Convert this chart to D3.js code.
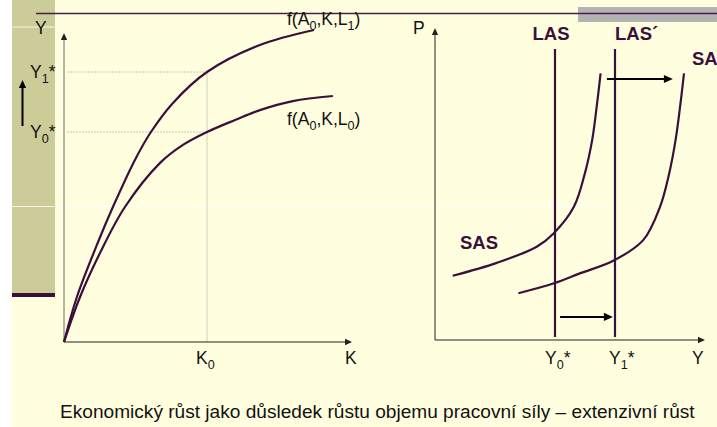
<!DOCTYPE html>
<html>
<head>
<meta charset="utf-8">
<script src="https://cdn.jsdelivr.net/npm/d3@7"></script>
<style>
  body { margin: 0; background: #fff; }
  text { font-family: "Liberation Sans", Arial, sans-serif; }
</style>
</head>
<body>
<script>
// production functions, K on x, Y on y (units)
var prodL1 = [[0,0],[0.45,1.5],[1.22,3.4],[1.71,4.5],[2.48,6.07],[3.04,7.0],[3.81,7.97],[5,9],[6.85,9.9],[8.74,10.4]];
var prodL0 = [[0,0],[0.56,1.5],[1.26,2.97],[2.13,4.5],[3.36,5.97],[4.16,6.57],[5,7],[5.98,7.4],[6.85,7.73],[8.0,8.03],[9.4,8.2]];
var K0 = 5, Y0star = 7, Y1star = 9;

// AS model, Y on x, P on y (units)
var sas0 = [[0.59,2.14],[2.06,2.57],[3.39,3.11],[3.97,3.57],[4.63,4.44],[5.0,5.57],[5.24,6.67],[5.39,7.78],[5.52,8.89]];
var sas1 = [[2.78,1.56],[3.97,1.89],[4.83,2.22],[5.94,2.64],[6.94,3.33],[7.5,4.44],[7.81,5.57],[8.02,6.67],[8.17,7.78],[8.3,8.89]];
var lasX = [4, 6];
var lasRange = [0.1, 9.7];
var shiftArrows = [[5.73, 7.93, 8.7], [4.17, 5.93, 0.77]];

var caption = "Ekonomický růst jako důsledek růstu objemu pracovní síly – extenzivní růst";

var W = 717, H = 427;
var dark = "#3b0f3b";

var svg = d3.select("body").append("svg")
    .attr("width", W)
    .attr("height", H);

// slide background
svg.append("rect").attr("x", 12).attr("y", 0).attr("width", W - 12).attr("height", H).attr("fill", "#ffffe0");
svg.append("rect").attr("x", 12).attr("y", 0).attr("width", 43).attr("height", 294).attr("fill", "#cccc99");
svg.append("rect").attr("x", 12).attr("y", 293).attr("width", 43).attr("height", 4).attr("fill", dark);
svg.append("line").attr("x1", 12).attr("x2", 55).attr("y1", 27).attr("y2", 27).attr("stroke", "#fff").attr("stroke-width", 0.8);
svg.append("line").attr("x1", 12).attr("x2", 615).attr("y1", 206.5).attr("y2", 206.5).attr("stroke", "#fff").attr("stroke-width", 0.8);
svg.append("rect").attr("x", 578).attr("y", 7).attr("width", W - 578).attr("height", 15).attr("fill", "#b3b3b3");
svg.append("line").attr("x1", 36).attr("x2", W).attr("y1", 13.5).attr("y2", 13.5).attr("stroke", "#4a1f47").attr("stroke-width", 1.5);

// scales
var x = d3.scaleLinear().domain([0, 10]).range([64, 350]);
var y = d3.scaleLinear().domain([0, 10]).range([342, 42]);
var xr = d3.scaleLinear().domain([0, 9]).range([435, 705]);
var pr = d3.scaleLinear().domain([0, 10]).range([340, 40]);

function arrowHead(g, tx, ty, dir, size, col) {
  var a = size, b = size * 0.45, p;
  if (dir == "up") p = [[tx, ty], [tx - b, ty + a], [tx + b, ty + a]];
  else p = [[tx, ty], [tx - a, ty - b], [tx - a, ty + b]];
  g.append("path").attr("d", "M" + p.join("L") + "Z").attr("fill", col);
}

function label(g, px, py, parts, opts) {
  opts = opts || {};
  var fs = opts.size || 17.5;
  var t = g.append("text").attr("x", px).attr("y", py)
      .attr("font-size", fs)
      .attr("font-weight", opts.bold ? "bold" : "normal")
      .attr("fill", opts.fill || "#111")
      .attr("text-anchor", opts.anchor || "start");
  var shift = 0;
  parts.forEach(function(p) {
    var s = t.append("tspan").text(p[0]);
    var want = p[1] == "sub" ? 5 : 0;
    if (want != shift) { s.attr("dy", want - shift); shift = want; }
    if (p[1] == "sub") s.attr("font-size", fs * 0.72);
  });
  return t;
}

// ---------- left panel ----------
var left = svg.append("g");

// guide lines
left.append("line").attr("x1", x(0) + 3).attr("x2", x(K0)).attr("y1", y(Y1star)).attr("y2", y(Y1star))
    .attr("stroke", "#b8b8b0").attr("stroke-width", 0.8).attr("stroke-dasharray", "2,1");
left.append("line").attr("x1", x(0) + 3).attr("x2", x(K0)).attr("y1", y(Y0star)).attr("y2", y(Y0star))
    .attr("stroke", "#b8b8b0").attr("stroke-width", 0.8).attr("stroke-dasharray", "2,1");
left.append("line").attr("x1", x(K0)).attr("x2", x(K0)).attr("y1", y(Y1star)).attr("y2", y(0))
    .attr("stroke", "#c4c4bc").attr("stroke-width", 0.8);

// axes
left.append("line").attr("x1", x(0)).attr("x2", x(0)).attr("y1", y(0)).attr("y2", y(10.1))
    .attr("stroke", "#6a6a6a").attr("stroke-width", 1);
arrowHead(left, x(0), y(10.3), "up", 7, "#222");
left.append("line").attr("x1", x(0)).attr("x2", x(10.0)).attr("y1", y(0)).attr("y2", y(0))
    .attr("stroke", "#222").attr("stroke-width", 1);
arrowHead(left, x(10.07), y(0), "right", 7, "#222");

var lineL = d3.line().x(function(d) { return x(d[0]); }).y(function(d) { return y(d[1]); }).curve(d3.curveCatmullRom.alpha(0.5));
left.selectAll("path.prod").data([prodL1, prodL0]).enter().append("path")
    .attr("class", "prod")
    .attr("d", lineL)
    .attr("fill", "none").attr("stroke", dark).attr("stroke-width", 2.2);

// up arrow on the band
left.append("line").attr("x1", 22.5).attr("x2", 22.5).attr("y1", 126).attr("y2", 86).attr("stroke", "#000").attr("stroke-width", 2);
arrowHead(left, 22.5, 80, "up", 8, "#000");

label(left, 35, 34, [["Y", ""]]);
label(left, 30, 78, [["Y", ""], ["1", "sub"], ["*", ""]]);
label(left, 30, 138, [["Y", ""], ["0", "sub"], ["*", ""]]);
label(left, 196, 364, [["K", ""], ["0", "sub"]]);
label(left, 345, 364, [["K", ""]]);
label(left, 287, 25, [["f(A", ""], ["0", "sub"], [",K,L", ""], ["1", "sub"], [")", ""]]);
label(left, 287, 125, [["f(A", ""], ["0", "sub"], [",K,L", ""], ["0", "sub"], [")", ""]]);

// ---------- right panel ----------
var right = svg.append("g");
right.append("line").attr("x1", xr(0)).attr("x2", xr(0)).attr("y1", pr(0)).attr("y2", pr(10.2))
    .attr("stroke", "#222").attr("stroke-width", 1);
arrowHead(right, xr(0), pr(10.4), "up", 7, "#222");
right.append("line").attr("x1", xr(0)).attr("x2", xr(8.8)).attr("y1", pr(0)).attr("y2", pr(0))
    .attr("stroke", "#222").attr("stroke-width", 1);
arrowHead(right, xr(9), pr(0), "right", 7, "#222");

right.selectAll("line.las").data(lasX).enter().append("line")
    .attr("class", "las")
    .attr("x1", function(d) { return xr(d); }).attr("x2", function(d) { return xr(d); })
    .attr("y1", pr(lasRange[0])).attr("y2", pr(lasRange[1]))
    .attr("stroke", dark).attr("stroke-width", 2.2);

var lineR = d3.line().x(function(d) { return xr(d[0]); }).y(function(d) { return pr(d[1]); }).curve(d3.curveCatmullRom.alpha(0.5));
right.selectAll("path.sas").data([sas0, sas1]).enter().append("path")
    .attr("class", "sas")
    .attr("d", lineR)
    .attr("fill", "none").attr("stroke", dark).attr("stroke-width", 2.2);

shiftArrows.forEach(function(a) {
  right.append("line").attr("x1", xr(a[0])).attr("x2", xr(a[1]) - 6).attr("y1", pr(a[2])).attr("y2", pr(a[2]))
      .attr("stroke", "#000").attr("stroke-width", 2);
  arrowHead(right, xr(a[1]), pr(a[2]), "right", 9, "#000");
});

label(right, 551, 40, [["LAS", ""]], { bold: true, size: 18.5, fill: dark, anchor: "middle" });
label(right, 615, 40, [["LAS´", ""]], { bold: true, size: 18.5, fill: dark });
label(right, 692, 65, [["SAS", ""]], { bold: true, size: 18.5, fill: dark });
label(right, 460, 249, [["SAS", ""]], { bold: true, size: 18.5, fill: dark });
label(right, 413, 34, [["P", ""]]);
label(right, 545, 364, [["Y", ""], ["0", "sub"], ["*", ""]]);
label(right, 609, 364, [["Y", ""], ["1", "sub"], ["*", ""]]);
label(right, 692, 364, [["Y", ""]]);

svg.append("text").attr("x", 60).attr("y", 417.5)
    .attr("font-size", 19.1).attr("fill", "#111")
    .text(caption);
</script>
</body>
</html>
